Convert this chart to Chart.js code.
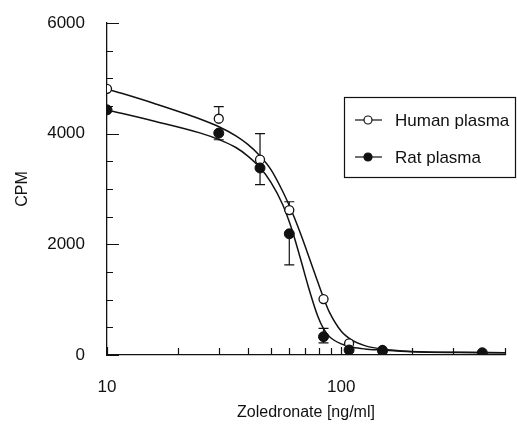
<!DOCTYPE html>
<html>
<head>
<meta charset="utf-8">
<script src="https://cdn.jsdelivr.net/npm/chart.js@4/dist/chart.umd.min.js"></script>
<style>
  html, body { margin: 0; padding: 0; background: #fff; }
  #wrap { width: 517px; height: 424px; }
</style>
</head>
<body>
<div id="wrap"><canvas id="myChart" width="517" height="424"></canvas></div>
<script>
// measured points
const humanX = [10, 30, 45, 60, 84, 108, 150];
const humanY = [4810, 4270, 3530, 2620, 1010, 210, 90];
const humanErrUp = [0, 220, 470, 150, 0, 0, 0];
const humanErrDown = [0, 0, 0, 0, 0, 0, 0];

const ratX = [10, 30, 45, 60, 84, 108, 150, 400];
const ratY = [4430, 4010, 3380, 2190, 330, 90, 75, 40];
const ratErrUp = [0, 0, 0, 0, 150, 0, 0, 0];
const ratErrDown = [0, 120, 300, 560, 110, 0, 0, 0];

// fitted curves
const curveX = [10, 15.8, 25.1, 30.2, 35.5, 39.8, 44.7, 50.1, 56.2, 60.3, 63.1, 67.6, 72.4, 79.4, 84.1, 89.1, 100, 112, 126, 148, 200, 316, 500];
const humanCurveY = [4810, 4550, 4260, 4120, 3960, 3810, 3610, 3350, 2960, 2680, 2480, 2150, 1800, 1320, 1030, 770, 430, 260, 170, 110, 65, 48, 42];
const ratCurveY = [4430, 4230, 4010, 3890, 3750, 3600, 3400, 3120, 2720, 2380, 2120, 1680, 1230, 700, 470, 330, 200, 140, 110, 90, 60, 45, 40];

const xTickLabels = [10, 100];
const xMinorTicks = [20, 30, 40, 50, 60, 70, 80, 90, 200, 300, 400, 500];
const yTickLabels = [0, 2000, 4000, 6000];

const legendNames = ['Human plasma', 'Rat plasma'];

const fontFamily = '"Liberation Sans", Arial, sans-serif';

function pts(xs, ys) {
    return xs.map((x, i) => ({x: x, y: ys[i]}));
}

// inward ticks like the original axes
const axisTicks = {
    id: 'axisTicks',
    afterDraw(chart) {
        const ctx = chart.ctx;
        const xs = chart.scales.x, ys = chart.scales.y;
        const a = chart.chartArea;
        ctx.save();
        ctx.strokeStyle = '#111';
        ctx.lineWidth = 1.2;
        ctx.beginPath();
        for (let v = 0; v <= 6000; v += 500) {
            const py = Math.round(ys.getPixelForValue(v)) + 0.5;
            const len = (v % 2000 === 0) ? 12 : 6;
            ctx.moveTo(a.left, py);
            ctx.lineTo(a.left + len, py);
        }
        xMinorTicks.forEach(v => {
            const px = Math.round(xs.getPixelForValue(v)) + 0.5;
            ctx.moveTo(px, a.bottom);
            ctx.lineTo(px, a.bottom - 7);
        });
        xTickLabels.forEach(v => {
            const px = Math.round(xs.getPixelForValue(v)) + 0.5;
            ctx.moveTo(px, a.bottom);
            ctx.lineTo(px, a.bottom - 8);
        });
        ctx.stroke();
        ctx.restore();
    }
};

// error bars with caps
const errorBars = {
    id: 'errorBars',
    beforeDatasetsDraw(chart) {
        const ctx = chart.ctx;
        const xs = chart.scales.x, ys = chart.scales.y;
        const sets = [[ratX, ratY, ratErrUp, ratErrDown], [humanX, humanY, humanErrUp, humanErrDown]];
        ctx.save();
        ctx.strokeStyle = '#111';
        ctx.lineWidth = 1.2;
        sets.forEach(s => {
            s[0].forEach((x, i) => {
                const px = xs.getPixelForValue(x);
                const py = ys.getPixelForValue(s[1][i]);
                [[s[2][i], 1], [s[3][i], -1]].forEach(e => {
                    if (!e[0]) return;
                    const ey = ys.getPixelForValue(s[1][i] + e[1] * e[0]);
                    ctx.beginPath();
                    ctx.moveTo(px, py);
                    ctx.lineTo(px, ey);
                    ctx.moveTo(px - 5, ey);
                    ctx.lineTo(px + 5, ey);
                    ctx.stroke();
                });
            });
        });
        ctx.restore();
    }
};

// boxed legend inside the plot
const boxLegend = {
    id: 'boxLegend',
    afterDraw(chart) {
        const ctx = chart.ctx;
        ctx.save();
        ctx.strokeStyle = '#111';
        ctx.lineWidth = 1.2;
        ctx.strokeRect(344.5, 97.5, 171, 80);
        const rows = [120, 157];
        rows.forEach((y, i) => {
            ctx.beginPath();
            ctx.moveTo(355, y);
            ctx.lineTo(382, y);
            ctx.stroke();
            ctx.beginPath();
            ctx.arc(368, y, 4, 0, Math.PI * 2);
            ctx.fillStyle = i === 0 ? '#fff' : '#111';
            ctx.fill();
            ctx.stroke();
            ctx.fillStyle = '#111';
            ctx.font = '17px ' + fontFamily;
            ctx.textBaseline = 'middle';
            ctx.fillText(legendNames[i], 395, y + 1);
        });
        ctx.restore();
    }
};

const ctx = document.getElementById('myChart').getContext('2d');
const myChart = new Chart(ctx, {
    type: 'scatter',
    data: {
        datasets: [
            {
                label: 'Rat plasma',
                data: pts(ratX, ratY),
                backgroundColor: '#111',
                borderColor: '#111',
                pointRadius: 5,
                borderWidth: 1
            },
            {
                label: 'Human plasma',
                data: pts(humanX, humanY),
                backgroundColor: '#fff',
                borderColor: '#111',
                pointRadius: 4.5,
                borderWidth: 1.3
            },
            {
                label: 'Human fit',
                type: 'line',
                data: pts(curveX, humanCurveY),
                borderColor: '#111',
                borderWidth: 1.5,
                pointRadius: 0,
                cubicInterpolationMode: 'monotone',
                fill: false
            },
            {
                label: 'Rat fit',
                type: 'line',
                data: pts(curveX, ratCurveY),
                borderColor: '#111',
                borderWidth: 1.5,
                pointRadius: 0,
                cubicInterpolationMode: 'monotone',
                fill: false
            }
        ]
    },
    options: {
        responsive: false,
        animation: false,
        layout: { padding: { top: 23, right: 12, left: 0, bottom: 0 } },
        plugins: {
            legend: { display: false },
            tooltip: { enabled: false }
        },
        scales: {
            x: {
                type: 'logarithmic',
                min: 10,
                max: 500,
                afterBuildTicks: scale => { scale.ticks = xTickLabels.map(v => ({value: v})); },
                afterFit: scale => { scale.height = 69; scale.paddingLeft = 0; scale.paddingRight = 0; },
                grid: { display: false },
                border: { display: true, color: '#111', width: 1.3 },
                ticks: {
                    padding: 14,
                    color: '#111',
                    font: { family: fontFamily, size: 17 },
                    callback: v => xTickLabels.includes(v) ? String(v) : ''
                },
                title: {
                    display: true,
                    text: 'Zoledronate [ng/ml]',
                    color: '#111',
                    font: { family: fontFamily, size: 16 },
                    padding: { top: 0, bottom: 2 }
                }
            },
            y: {
                min: 0,
                max: 6000,
                afterBuildTicks: scale => { scale.ticks = yTickLabels.map(v => ({value: v})); },
                afterFit: scale => { scale.width = 107; scale.paddingTop = 0; scale.paddingBottom = 0; },
                grid: { display: false },
                border: { display: true, color: '#111', width: 1.3 },
                ticks: {
                    padding: 14,
                    color: '#111',
                    font: { family: fontFamily, size: 17 },
                    callback: v => String(v)
                },
                title: {
                    display: true,
                    text: 'CPM',
                    color: '#111',
                    font: { family: fontFamily, size: 16 },
                    padding: { top: 13, bottom: 0 }
                }
            }
        }
    },
    plugins: [errorBars, axisTicks, boxLegend]
});
</script>
</body>
</html>
